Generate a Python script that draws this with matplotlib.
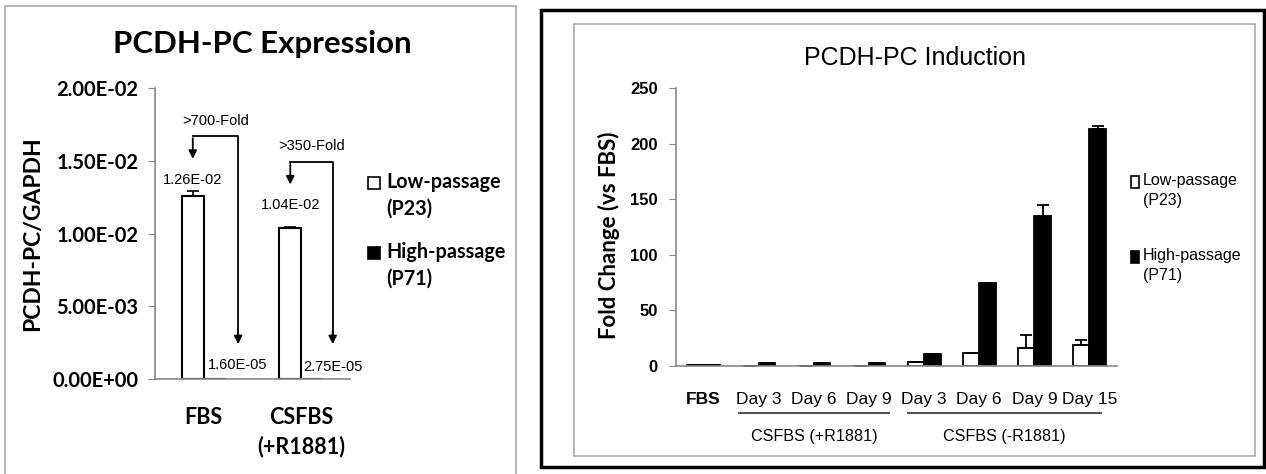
import numpy as np
import matplotlib
matplotlib.use("Agg")
import matplotlib.pyplot as plt
from matplotlib.patches import Rectangle

# ---- data: left panel (PCDH-PC Expression) ----
expr_groups = ["FBS", "CSFBS\n(+R1881)"]
expr_low = [1.26e-2, 1.04e-2]
expr_low_err = [3.0e-4, 5.0e-5]
expr_high = [1.60e-5, 2.75e-5]
expr_low_text = ["1.26E-02", "1.04E-02"]
expr_high_text = ["1.60E-05", "2.75E-05"]
fold_text = [">700-Fold", ">350-Fold"]

# ---- data: right panel (PCDH-PC Induction) ----
ind_days = ["FBS", "Day 3", "Day 6", "Day 9", "Day 3", "Day 6", "Day 9", "Day 15"]
ind_low = [1.0, 0.3, 0.3, 0.3, 3.9, 12.0, 16.5, 19.0]
ind_low_err = [0, 0, 0, 0, 0, 0, 11.5, 4.0]
ind_high = [1.0, 2.5, 2.5, 2.5, 10.8, 74.3, 135.0, 213.0]
ind_high_err = [0, 0, 0, 0, 0, 0, 10.0, 2.5]
ind_conditions = ["CSFBS (+R1881)", "CSFBS (-R1881)"]

W, H = 1266, 474
fig = plt.figure(figsize=(W / 100, H / 100), dpi=100)
fig.patch.set_facecolor("white")

def px_rect(x0, y0, x1, y1):
    return [x0 / W, 1 - y1 / H, (x1 - x0) / W, (y1 - y0) / H]

grey = "#888888"
bold_font = ["Lato", "DejaVu Sans"]
narrow = ["Liberation Sans", "DejaVu Sans"]

# panel frames
fig.patches.append(Rectangle((5 / W, -0.01), 511 / W, 1 - 6 / H + 0.01, transform=fig.transFigure,
                             fill=False, edgecolor="#aaaaaa", lw=1.2))
fig.patches.append(Rectangle((541 / W, 1 - 467 / H), 723 / W, 457 / H, transform=fig.transFigure,
                             fill=False, edgecolor="black", lw=2.5))
fig.patches.append(Rectangle((574 / W, 1 - 456 / H), 681 / W, 432 / H, transform=fig.transFigure,
                             fill=False, edgecolor="#aaaaaa", lw=1.2))

# ================= left panel =================
ax1 = fig.add_axes(px_rect(155, 88, 350, 379))
x1 = np.arange(len(expr_groups))
bw1 = 0.225
ax1.bar(x1 - bw1 / 2, expr_low, bw1, color="white", edgecolor="black", lw=1.5,
        yerr=[np.zeros(2), expr_low_err], capsize=4, error_kw=dict(lw=1.2, capthick=1.2))
ax1.bar(x1 + bw1 / 2, expr_high, bw1, color="black", edgecolor="black", lw=1.5)
ax1.set_xlim(-0.5, 1.5)
ax1.set_ylim(0, 0.02)
ax1.set_yticks([0, 0.005, 0.01, 0.015, 0.02])
ax1.set_yticklabels(["0.00E+00", "5.00E-03", "1.00E-02", "1.50E-02", "2.00E-02"])
ax1.set_xticks(x1)
ax1.set_xticklabels(expr_groups, fontsize=15.5, fontweight="bold", family=bold_font, linespacing=1.45)
ax1.tick_params(axis="x", length=0, pad=20)
ax1.tick_params(axis="y", labelsize=14.5, length=5, color=grey, pad=7)
for lab in ax1.get_yticklabels():
    lab.set_fontweight("bold")
    lab.set_family(bold_font)
for s in ["top", "right"]:
    ax1.spines[s].set_visible(False)
for s in ["left", "bottom"]:
    ax1.spines[s].set_color(grey)
    ax1.spines[s].set_linewidth(1.2)
ax1.set_ylabel("PCDH-PC/GAPDH", fontsize=16.5, fontweight="bold", family=bold_font)
ax1.yaxis.set_label_coords(-0.575, 0.5)

arrow_kw = dict(arrowstyle="-|>", color="black", lw=1.3, mutation_scale=12)
for i in range(len(expr_groups)):
    xl = i - bw1 / 2
    xh = i + bw1 / 2 + [0.24, 0.21][i]
    tip_l = expr_low[i] + [0.00234, 0.00278][i]
    top = tip_l + 0.00175
    ax1.text(xl, tip_l - 0.00125, expr_low_text[i], ha="center", va="center",
             fontsize=10.5, family=narrow)
    ax1.text(xh, [0.00096, 0.00085][i], expr_high_text[i], ha="center", va="center",
             fontsize=10.5, family=narrow)
    ax1.plot([xh, xh, xl], [0.0030, top, top], color="black", lw=1.3, clip_on=False)
    ax1.annotate("", xy=(xl, tip_l), xytext=(xl, top + 0.00005), arrowprops=arrow_kw,
                 annotation_clip=False)
    ax1.annotate("", xy=(xh, 0.0022), xytext=(xh, 0.0035), arrowprops=arrow_kw,
                 annotation_clip=False)
    ax1.text((xl + xh) / 2, top + 0.00105, fold_text[i], ha="center", va="center",
             fontsize=10.5, family=narrow)

fig.text(262 / W, 1 - 44 / H, "PCDH-PC Expression", ha="center", va="center",
         fontsize=22.5, fontweight="bold", family=bold_font)

# left legend
for k, (lab, fc) in enumerate([("Low-passage\n(P23)", "white"), ("High-passage\n(P71)", "black")]):
    yc = [183, 253][k]
    fig.patches.append(Rectangle((368 / W, 1 - (yc + 6) / H), 12 / W, 12 / H, transform=fig.transFigure,
                                 facecolor=fc, edgecolor="black", lw=1.2))
    fig.text(386 / W, 1 - (yc - 11) / H, lab, ha="left", va="top", fontsize=14.2,
             fontweight="bold", family=bold_font, linespacing=1.4)

# ================= right panel =================
ax2 = fig.add_axes(px_rect(676, 88, 1117, 366))
x2 = np.arange(len(ind_days))
bw2 = 0.3
ax2.bar(x2 - bw2 / 2, ind_low, bw2, color="white", edgecolor="black", lw=1.3,
        yerr=[np.zeros(len(x2)), ind_low_err], capsize=4, error_kw=dict(lw=1.3, capthick=1.3))
ax2.bar(x2 + bw2 / 2, ind_high, bw2, color="black", edgecolor="black", lw=1.3,
        yerr=[np.zeros(len(x2)), ind_high_err], capsize=4, error_kw=dict(lw=1.3, capthick=1.3))
ax2.set_xlim(-0.5, len(x2) - 0.5)
ax2.set_ylim(0, 250)
ax2.set_yticks(np.arange(0, 251, 50))
ax2.set_xticks(x2)
ax2.set_xticklabels(ind_days, fontsize=12.5, family=narrow)
ax2.get_xticklabels()[0].set_fontweight("bold")
ax2.tick_params(axis="x", length=0, pad=19)
ax2.tick_params(axis="y", labelsize=12, length=5, color=grey, pad=8)
for lab in ax2.get_yticklabels():
    lab.set_fontweight("bold")
    lab.set_family(narrow)
for s in ["top", "right"]:
    ax2.spines[s].set_visible(False)
for s in ["left", "bottom"]:
    ax2.spines[s].set_color(grey)
    ax2.spines[s].set_linewidth(1.2)
ax2.set_ylabel("Fold Change (vs FBS)", fontsize=16, fontweight="bold", family=bold_font)
ax2.yaxis.set_label_coords(-0.127, 0.47)

# grouping lines and condition labels
tr = ax2.get_xaxis_transform()
spans = [(1 - 0.357, 3 + 0.364), (4 - 0.29, 7 + 0.21)]
for (a, b), name in zip(spans, ind_conditions):
    ax2.plot([a, b], [-0.169, -0.169], transform=tr, color="#555555", lw=1.5, clip_on=False)
    ax2.text((a + b) / 2, -0.255, name, transform=tr, ha="center", va="center",
             fontsize=11.6, family=narrow)

fig.text(915 / W, 1 - 58 / H, "PCDH-PC Induction", ha="center", va="center",
         fontsize=18, family=narrow)

# right legend
for k, (lab, fc) in enumerate([("Low-passage\n(P23)", "white"), ("High-passage\n(P71)", "black")]):
    yc = [182, 257][k]
    fig.patches.append(Rectangle((1131 / W, 1 - (yc + 6) / H), 8 / W, 12 / H, transform=fig.transFigure,
                                 facecolor=fc, edgecolor="black", lw=1.2))
    fig.text(1143 / W, 1 - (yc - 9) / H, lab, ha="left", va="top", fontsize=11.5,
             family=narrow, linespacing=1.4)

fig.savefig("out.png", dpi=100)
